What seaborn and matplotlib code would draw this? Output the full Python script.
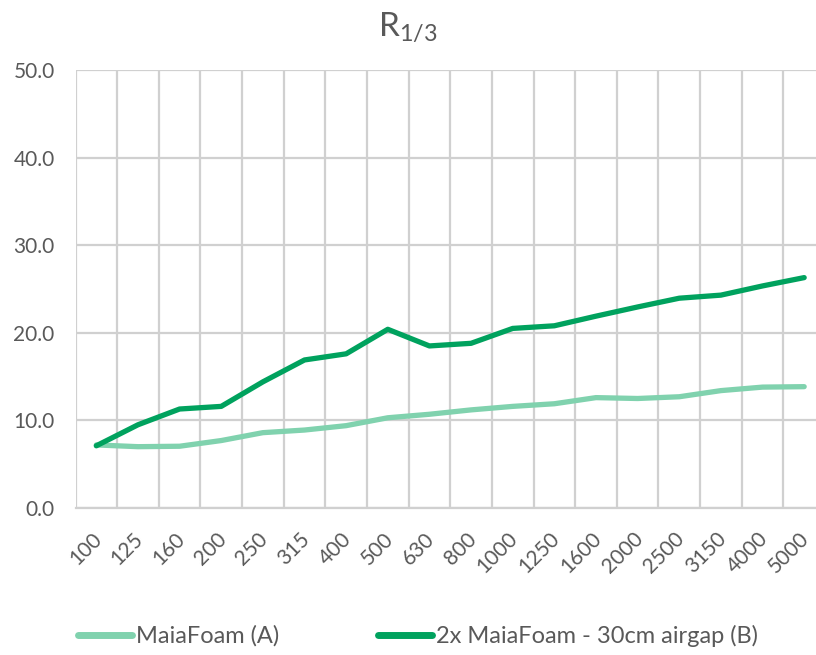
import matplotlib
matplotlib.use("Agg")
import matplotlib.pyplot as plt
import matplotlib.transforms as mtransforms
import seaborn as sns
import pandas as pd
import numpy as np
from matplotlib.lines import Line2D

freqs = ["100", "125", "160", "200", "250", "315", "400", "500", "630", "800",
         "1000", "1250", "1600", "2000", "2500", "3150", "4000", "5000"]
series_a = [7.2, 7.0, 7.05, 7.7, 8.6, 8.9, 9.4, 10.3, 10.7, 11.2,
            11.6, 11.9, 12.6, 12.5, 12.7, 13.4, 13.8, 13.85]
series_b = [7.1, 9.5, 11.3, 11.6, 14.4, 16.9, 17.6, 20.4, 18.5, 18.8,
            20.5, 20.8, 21.9, 22.95, 23.95, 24.3, 25.35, 26.3]
name_a = "MaiaFoam (A)"
name_b = "2x MaiaFoam - 30cm airgap (B)"
title = "R$_{1/3}$"

sns.set_style("white")
plt.rcParams["font.family"] = ["Lato", "DejaVu Sans"]
plt.rcParams["mathtext.fontset"] = "custom"
plt.rcParams["mathtext.rm"] = "Lato"

df = pd.DataFrame({
    "pos": list(range(len(freqs))) * 2,
    "value": series_a + series_b,
    "series": [name_a] * len(freqs) + [name_b] * len(freqs),
})

fig = plt.figure(figsize=(8.16, 6.55), dpi=100)
ax = fig.add_axes([75.5 / 816, (655 - 508) / 655, (825 - 75.5) / 816, (508 - 70) / 655])

grey = "#595959"
gridc = "#d0d0d0"
palette = {name_a: "#80d2ae", name_b: "#00a25e"}

sns.lineplot(data=df, x="pos", y="value", hue="series", palette=palette,
             linewidth=3.8, ax=ax, legend=False)

ax.set_xlim(-0.5, len(freqs) - 0.5)
ax.set_ylim(0, 50)
ax.set_yticks([0, 10, 20, 30, 40, 50])
ax.set_yticklabels([f"{v:.1f}" for v in [0, 10, 20, 30, 40, 50]], color=grey, fontsize=15)
ax.set_xticks(np.arange(-0.5, len(freqs), 1), minor=True)
ax.tick_params(axis="both", which="both", length=0)
ax.tick_params(axis="x", pad=15)
ax.tick_params(axis="y", pad=15)
ax.set_xticks(range(len(freqs)))
ax.set_xticklabels(freqs, rotation=45, ha="right", va="top", rotation_mode="anchor",
                   color=grey, fontsize=15)
offset = mtransforms.ScaledTranslation(-5 / 100, 0, fig.dpi_scale_trans)
for lbl in ax.get_xticklabels():
    lbl.set_transform(lbl.get_transform() + offset)
ax.grid(False)
ax.grid(True, axis="y", which="major", color=gridc, linewidth=1.6)
ax.grid(True, axis="x", which="minor", color=gridc, linewidth=1.6)
ax.set_axisbelow(True)
for s in ["top", "right", "left"]:
    ax.spines[s].set_visible(False)
ax.spines["bottom"].set_color(gridc)
ax.spines["bottom"].set_linewidth(1.6)
ax.set_xlabel("")
ax.set_ylabel("")

fig.text(0.5, (655 - 28) / 655, title, ha="center", va="center", color=grey, fontsize=24)

handles = [Line2D([], [], color=palette[name_a], linewidth=5),
           Line2D([], [], color=palette[name_b], linewidth=5)]
leg = fig.legend(handles, [name_a, name_b], loc="center", ncol=2,
                 bbox_to_anchor=(0.512, (655 - 636) / 655), frameon=False,
                 fontsize=17, handlelength=2.3, handletextpad=0.15, columnspacing=4.2)
for t in leg.get_texts():
    t.set_color(grey)

fig.savefig("out.png", dpi=100)
